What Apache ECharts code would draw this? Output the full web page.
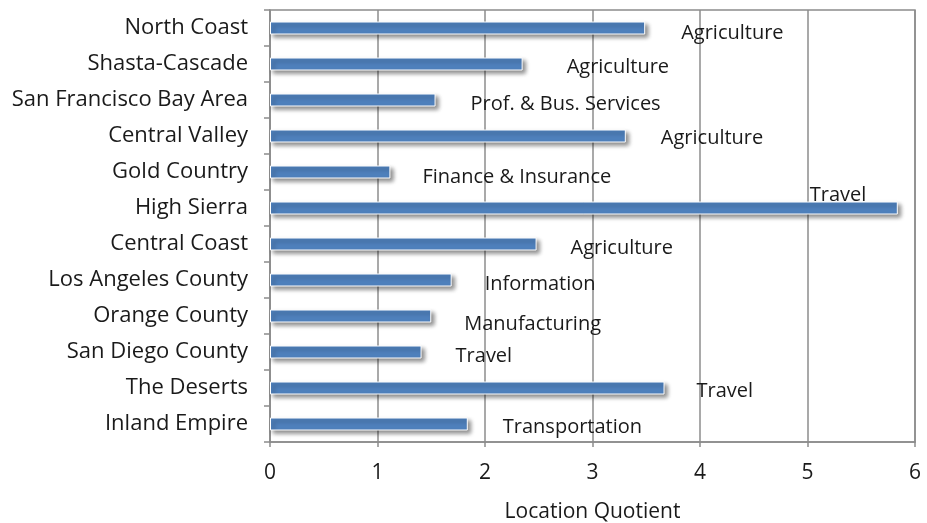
<!DOCTYPE html>
<html><head><meta charset="utf-8">
<script src="https://cdn.jsdelivr.net/npm/echarts@6/dist/echarts.min.js"></script>
<style>html,body{margin:0;padding:0;background:#fff}#c{width:927px;height:523px}</style>
</head><body><div id="c"></div>
<script>
const regions = ["North Coast","Shasta-Cascade","San Francisco Bay Area","Central Valley","Gold Country","High Sierra","Central Coast","Los Angeles County","Orange County","San Diego County","The Deserts","Inland Empire"];
const quotients = [3.49, 2.35, 1.54, 3.31, 1.12, 5.84, 2.48, 1.69, 1.50, 1.41, 3.67, 1.84];
const industries = ["Agriculture","Agriculture","Prof. & Bus. Services","Agriculture","Finance & Insurance","Travel","Agriculture","Information","Manufacturing","Travel","Travel","Transportation"];
const xTicks = [0,1,2,3,4,5,6];

const font = '"Open Sans", Lato, sans-serif';
// label nudges (styling only)
const dx = [2,10,1,1,-2,0,0,-1,-1,0,-2,1];
const dy = [5,3,4,2,5,0,4,4,8,4,3,3];

const data = quotients.map((v,i)=>{
  const lab = {show:true, position:'right', distance:34, formatter: industries[i], fontSize:20, color:'#1a1a1a', fontFamily:font, offset:[dx[i], dy[i]]};
  if (industries[i]==='Travel' && v>5) { lab.offset=[-88,-13]; lab.distance=0; }
  return {value:v, label:lab};
});

const chart = echarts.init(document.getElementById('c'), null, {renderer:'canvas'});
chart.setOption({
  animation:false,
  grid:{left:270, right:12, top:10, bottom:81, show:true, borderColor:'#8c8c8c', borderWidth:1.5, containLabel:false, outerBoundsMode:'none'},
  xAxis:{type:'value', min:xTicks[0], max:xTicks[xTicks.length-1], interval:1,
    name:'Location Quotient', nameLocation:'middle', nameGap:60,
    nameTextStyle:{fontSize:21, color:'#1a1a1a', fontFamily:font},
    axisLine:{show:true, lineStyle:{color:'#8c8c8c', width:1.5}},
    axisTick:{show:true, length:5, lineStyle:{color:'#8c8c8c', width:1.5}},
    axisLabel:{fontSize:21, color:'#1a1a1a', fontFamily:font, margin:21},
    splitLine:{show:true, lineStyle:{color:'#8c8c8c', width:1.5}}
  },
  yAxis:{type:'category', data:regions, inverse:true, boundaryGap:true,
    axisLine:{show:true, lineStyle:{color:'#8c8c8c', width:1.5}},
    axisTick:{show:true, length:6, lineStyle:{color:'#8c8c8c', width:1.5}},
    axisLabel:{fontSize:22, color:'#1a1a1a', fontFamily:font, margin:22},
    splitLine:{show:false}
  },
  series:[{type:'bar', data:data, barWidth:13,
    itemStyle:{color:'#4F81BD', borderColor:'#ffffff', borderWidth:1,
      shadowColor:'rgba(0,0,0,0.45)', shadowBlur:4, shadowOffsetX:3, shadowOffsetY:3}
  }]
});
</script></body></html>
